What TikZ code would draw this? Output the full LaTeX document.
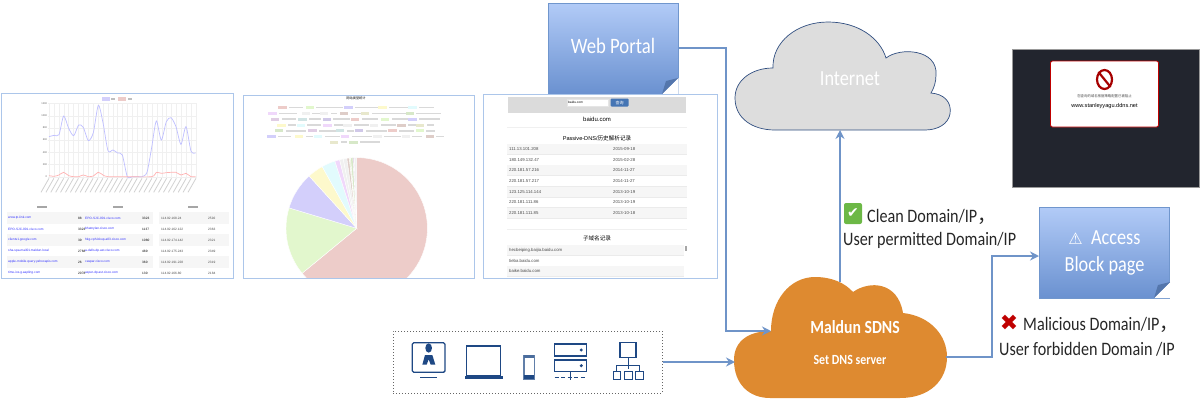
\documentclass[tikz,border=0pt]{standalone}
\usepackage{fontspec}
\usepackage{xcolor}
\usetikzlibrary{arrows.meta, positioning, fit, shapes.geometric}
\setmainfont[FakeStretch=0.85]{Carlito}
\newfontfamily\cjk{Noto Sans CJK SC}
\newfontfamily\shotfont{Liberation Sans}
\newfontfamily\symfont{DejaVu Sans}
\definecolor{linkblue}{RGB}{111,148,200}
\definecolor{shotedge}{RGB}{172,198,234}
\definecolor{notetop}{RGB}{178,203,247}
\definecolor{notebot}{RGB}{106,145,208}
\definecolor{noteedge}{RGB}{112,150,205}
\definecolor{foldblue}{RGB}{84,118,172}
\definecolor{sdnsorange}{RGB}{222,138,48}
\definecolor{netgray}{RGB}{221,221,221}
\definecolor{netedge}{RGB}{48,78,128}
\definecolor{iconnavy}{RGB}{30,72,132}
\definecolor{blockdark}{RGB}{34,37,46}
\definecolor{rowgray}{RGB}{246,246,246}
\definecolor{btnblue}{RGB}{69,117,180}
\definecolor{okgreen}{RGB}{108,184,70}
\definecolor{pinkp}{RGB}{237,204,201}
\definecolor{greenp}{RGB}{226,247,205}
\definecolor{lavp}{RGB}{211,207,251}
\definecolor{yelp}{RGB}{253,249,204}
\definecolor{cyanp}{RGB}{226,251,253}
\definecolor{violetp}{RGB}{240,216,251}
\definecolor{grayp}{RGB}{240,240,240}
\definecolor{rosyp}{RGB}{222,205,200}
\definecolor{khakip}{RGB}{232,232,205}
\definecolor{sagep}{RGB}{215,232,200}
\definecolor{mauvep}{RGB}{224,205,228}
\definecolor{tealp}{RGB}{208,228,228}
\definecolor{purplep}{RGB}{208,200,232}
\tikzset{
  shotbox/.style={rectangle, draw=shotedge, fill=white, line width=1pt, inner sep=0pt},
  notebox/.style={rectangle, draw=noteedge, line width=1pt, top color=notetop, bottom color=notebot,
    minimum width=130pt, minimum height=91pt, align=center, text=white, inner sep=0pt},
  flecha/.style={-{Stealth[length=9pt,width=9pt]}, line width=2pt, color=linkblue},
  etiq/.style={font=\fontsize{19}{22}\selectfont, color=black!85, inner sep=0pt, anchor=west},
  shottxt/.style={font=\shotfont\fontsize{3.2}{3.6}\selectfont, inner sep=0pt, anchor=west},
  domtxt/.style={font=\shotfont\fontsize{4.3}{5}\selectfont, color=black!70, inner sep=0pt, anchor=west},
  icon/.style={draw=iconnavy, line width=1.3pt, fill=white}
}
\begin{document}
\begin{tikzpicture}[x=1pt,y=-1pt]
  \useasboundingbox (0,0) rectangle (1200,400);
  % web portal note
  \node[notebox, font=\fontsize{22}{26}\selectfont] (portal) at (613,48.5) {\raisebox{5pt}{Web Portal}};
  \fill[white] (678.5,78) -- (678.5,94) -- (662,94) -- cycle;
  \fill[foldblue] (678,78) -- (662,94) -- (666,81) -- cycle;
  % screenshots
  \node[shotbox, minimum width=232pt, minimum height=185pt] (trend) at (117,185.5) {};
  \node[shotbox, minimum width=231pt, minimum height=183pt] (pie) at (358.5,186.5) {};
  \node[shotbox, minimum width=234pt, minimum height=184pt] (pdns) at (600,186) {};
  % trend chart
  \begin{scope}[shift={(0,85)},x=0.3333pt,y=-0.3333pt]
    \foreach \gy/\gl in {55/1200,92/1000,129/800,165/600,202/400,238/200,275/0} {
      \draw[black!6, line width=.3pt] (145,\gy) -- (590,\gy);
      \node[shottxt, anchor=east, color=black!60, font=\shotfont\fontsize{2.6}{3}\selectfont] at (142,\gy) {\gl};
    }
    \foreach \i in {0,...,30} {
      \draw[black!6, line width=.3pt] (147+14.7*\i,55) -- (147+14.7*\i,275);
      \draw[black!18, line width=.8pt] (147+14.7*\i,280) -- ++(-24,42);
    }
    \fill[lavp] (305,37) rectangle (329,47);
    \fill[black!25] (334,40) rectangle (346,45);
    \fill[pinkp] (354,37) rectangle (378,47);
    \fill[black!25] (383,40) rectangle (395,45);
    \draw[blue!25, line width=.7pt] plot[smooth, tension=.45] coordinates {(147,155) (162,151) (177,149) (191,93) (206,130) (221,152) (236,120) (250,127) (265,167) (280,143) (295,61) (309,113) (324,197) (339,195) (353,204) (367,210) (382,275) (397,275) (411,275) (426,275) (441,262) (455,188) (469,108) (484,165) (499,110) (513,98) (528,125) (543,178) (558,125) (573,198) (587,204)};
    \draw[red!30, line width=.7pt] plot[smooth, tension=.45] coordinates {(147,272) (162,274) (177,270) (191,262) (206,272) (221,275) (236,275) (250,270) (265,275) (280,273) (295,262) (309,270) (324,275) (382,275) (455,275) (469,262) (484,265) (499,263) (513,262) (528,262) (543,270) (558,265) (573,275) (587,275)};
    % table under the chart
    \foreach \hx in {110,338,563}
      \fill[black!35] (\hx,362) rectangle ++(30,6);
    \foreach \ry in {399,465,531} {
      \fill[rowgray] (20,\ry-17) rectangle (458,\ry+17);
      \fill[rowgray] (477,\ry-17) rectangle (688,\ry+17);
    }
  \end{scope}
  \foreach \ry/\da/\na/\db/\nb/\ip/\nc in {
    218/www.tp-link.com/88/EPO-SJC-001.cisco.com/3323/114.92.168.24/2592,
    229/EPO-SJC-001.cisco.com/3323/bhatnylan.cisco.com/1137/114.92.162.122/2363,
    240/clients1.google.com/39/hkg-cph-bkup-a03.cisco.com/1080/114.92.174.142/2321,
    251/sha-spa-mail01.maldun.local/2768/a-dells-dp.ast.cisco.com/489/114.92.175.243/2349,
    262/apple-mobile.query.yahooapis.com/26/caspar.cisco.com/360/114.92.191.228/2319,
    273/time-ios.g.aapling.com/2078/asper-dp.ast.cisco.com/130/114.92.166.80/2184} {
    \node[shottxt, text=blue!80] at (8,\ry) {\da};
    \node[shottxt] at (78,\ry) {\na};
    \node[shottxt, text=blue!80] at (85,\ry) {\db};
    \node[shottxt] at (142,\ry) {\nb};
    \node[shottxt, text=black!70] at (161,\ry) {\ip};
    \node[shottxt, text=black!70] at (208,\ry) {\nc};
  }
  % pie chart
  \begin{scope}
    \clip (243.5,95.5) rectangle (473.5,277.5);
    \foreach \sa/\sb/\sc in {90/-140.5/pinkp, 219.5/163.2/greenp, 163.2/132.3/lavp, 132.3/119.2/yelp,
      119.2/108/cyanp, 108/104/violetp, 104/101/grayp, 101/98/grayp, 98/96/rosyp, 96/95/khakip,
      95/93/sagep, 93/92/mauvep, 92/90/grayp} {
      \fill[\sc, draw=white, line width=.4pt] (356.7,228.3) -- ++({cos(\sa)*70.7},{-sin(\sa)*70.7})
        arc[start angle=-\sa, delta angle={\sa-\sb}, radius=70.7] -- cycle;
    }
  \end{scope}
  \node[shottxt, anchor=center, font=\cjk\fontsize{3.2}{4}\selectfont] (pietitle) at (356,98.5) {网站类型统计};
  \begin{scope}[shift={(240,85)},x=0.3333pt,y=-0.3333pt]
    \foreach \ly/\lx/\lc/\lw in {
      67/115/pinkp/43, 67/197/greenp/80, 67/313/lavp/70, 67/415/yelp/65, 67/505/cyanp/45,
      85/85/violetp/55, 85/185/grayp/25, 85/240/grayp/20, 85/300/rosyp/30, 85/363/khakip/105, 85/497/sagep/75,
      102/93/mauvep/42, 102/175/tealp/35, 102/248/purplep/50, 102/333/pinkp/50, 102/423/greenp/50, 102/505/lavp/62,
      120/112/yelp/25, 120/170/cyanp/42, 120/250/violetp/30, 120/310/grayp/45, 120/390/grayp/45, 120/472/rosyp/30, 120/528/khakip/22,
      137/105/sagep/60, 137/205/mauvep/50, 137/288/tealp/22, 137/345/purplep/65, 137/445/pinkp/45, 137/527/greenp/25,
      155/82/lavp/40, 155/165/yelp/22, 155/222/cyanp/45, 155/303/violetp/60, 155/400/grayp/50, 155/485/grayp/30, 155/557/rosyp/22,
      172/270/khakip/20, 172/328/sagep/60} {
      \fill[\lc] (\lx,\ly-4.5) rectangle ++(25,9);
      \fill[black!15] (\lx+32,\ly-2.5) rectangle ++(\lw,5);
    }
  \end{scope}
  % passive dns page
  \fill[black!14] (508,97) rectangle (686,113);
  \node[draw=black!10, fill=white, minimum width=41pt, minimum height=7pt, inner sep=0pt, anchor=west,
    font=\shotfont\fontsize{3.2}{4}\selectfont, text width=39pt] (query) at (567,102.5) {baidu.com};
  \node[fill=btnblue, rounded corners=1pt, minimum width=18pt, minimum height=8pt, inner sep=0pt,
    right=2pt of query, text=white, font=\cjk\fontsize{4}{5}\selectfont] (querybtn) {查询};
  \node[font=\shotfont\fontsize{6}{7}\selectfont, inner sep=0pt] (domain) at (597,119) {baidu.com};
  \draw[black!6, line width=.4pt] (507,127) -- (687,127);
  \node[font=\shotfont\fontsize{5.6}{7}\selectfont, inner sep=0pt] (pdnstitle) at (597,138) {Passive-DNS/{\cjk 历史解析记录}};
  \foreach \ry/\ip/\dt/\st in {
    149/111.13.101.208/2015-09-18/1, 160/180.149.132.47/2015-02-28/0, 170/220.181.57.216/2014-11-27/1,
    181/220.181.57.217/2014-11-27/0, 192/123.125.114.144/2013-10-19/1, 202/220.181.111.86/2013-10-19/0,
    213/220.181.111.85/2013-10-18/1} {
    \ifnum\st=1 \fill[rowgray] (507,\ry-5.3) rectangle (687,\ry+5.3); \fi
    \draw[black!8, line width=.3pt] (507,\ry+5.3) -- (687,\ry+5.3);
    \node[domtxt] at (509,\ry) {\ip};
    \node[domtxt] at (613,\ry) {\dt};
  }
  \draw[black!6, line width=.4pt] (507,229) -- (687,229);
  \node[font=\cjk\fontsize{5.6}{7}\selectfont, inner sep=0pt] (subtitle) at (597,238) {子域名记录};
  \foreach \ry/\sd/\st in {250/hecbeiping.baijia.baidu.com/1, 261/tieba.baidu.com/0, 271/baike.baidu.com/1} {
    \ifnum\st=1 \fill[rowgray] (507,\ry-5.3) rectangle (684,\ry+5.3); \fi
    \draw[black!8, line width=.3pt] (507,\ry+5.3) -- (684,\ry+5.3);
    \node[domtxt] at (509,\ry) {\sd};
  }
  \fill[black!35] (685,246) rectangle (686.5,251);
  % clouds
  \draw[fill=netgray, draw=netedge, line width=.7pt] (735,98) .. controls (735,80) and (752,68) .. (773,68)
    .. controls (772,42) and (797,22) .. (828,22) .. controls (858,22) and (880,38) .. (886,58)
    .. controls (900,47) and (938,49) .. (936,75) .. controls (936,82) and (934,88) .. (931,93)
    .. controls (944,94) and (952,102) .. (950,114) .. controls (948,124) and (938,130) .. (925,130)
    -- (775,130) .. controls (752,130) and (735,118) .. (735,98) -- cycle;
  \node[text=white, font=\fontsize{21.5}{25}\selectfont, inner sep=0pt] (internet) at (850,79) {Internet};
  \coordinate (netbase) at (840,130);
  \fill[sdnsorange] (734,360) .. controls (734,340) and (750,331) .. (771,331)
    .. controls (771,300) and (790,277) .. (815,277) .. controls (832,277) and (845,283) .. (853,292)
    .. controls (870,280) and (898,282) .. (903,313) .. controls (930,316) and (947,335) .. (947,357)
    .. controls (947,380) and (930,398) .. (900,398) -- (770,398)
    .. controls (750,398) and (734,385) .. (734,360) -- cycle;
  \node[text=white, font=\bfseries\fontsize{18.5}{22}\selectfont, inner sep=0pt] (sdns) at (855,327) {Maldun SDNS};
  \node[text=white, font=\bfseries\fontsize{14}{17}\selectfont, inner sep=0pt] (setdns) at (850,360) {Set DNS server};
  \coordinate (sdnswest) at (735,362);
  \coordinate (sdnsleft) at (771,331);
  \coordinate (sdnstop) at (840,282);
  \coordinate (sdnseast) at (946,357);
  % block page note
  \node[notebox, font=\fontsize{21.5}{27}\selectfont] (blockp) at (1104.5,252.5)
    {\raisebox{3pt}{{\symfont\fontsize{16}{20}\selectfont ⚠}\ \ Access}\\\raisebox{3pt}{Block page}};
  \fill[white] (1170.5,282) -- (1170.5,298) -- (1154,298) -- cycle;
  \fill[foldblue] (1170,282) -- (1154,298) -- (1158,285) -- cycle;
  % device icons
  \node[draw=black!60, dotted, line width=1pt, minimum width=269pt, minimum height=62pt, inner sep=0pt] (devices) at (527.5,362) {};
  \begin{scope}[shift={(380,320)},x=0.3333pt,y=-0.3333pt]
    \draw[icon, rounded corners=1.5pt] (97,68) rectangle (195,157);
    \draw[iconnavy, line width=1.6pt] (120,172) -- (172,172);
    \fill[iconnavy] (146,84) ellipse (10 and 14);
    \fill[iconnavy] (127,134) -- (135,105) -- (157,105) -- (166,134) -- (152,134) -- (146,118) -- (140,134) -- cycle;
    \draw[icon] (260,78) rectangle (362,168);
    \fill[iconnavy] (255,167) rectangle (368,178);
    \draw[icon, draw=iconnavy!70] (432,106) rectangle (463,178);
    \fill[iconnavy!80] (432,106) rectangle (463,114);
    \fill[iconnavy] (432,166) rectangle (463,178);
    \draw[icon] (524,72) rectangle (620,108);
    \draw[icon] (524,120) rectangle (620,155);
    \fill[iconnavy] (604,90) circle (5);
    \fill[iconnavy] (604,137) circle (5);
    \draw[iconnavy, line width=1.3pt] (572,155) -- (572,180);
    \draw[iconnavy, line width=1.3pt, dash pattern=on 4pt off 2.5pt] (524,173) -- (620,173);
    \draw[icon] (720,68) rectangle (768,112);
    \draw[iconnavy, line width=.9pt] (744,112) -- (744,148);
    \draw[iconnavy, line width=.9pt] (710,155) -- (710,136) -- (779,136) -- (779,155);
    \draw[iconnavy, line width=.9pt] (699,155) rectangle (722,178);
    \draw[iconnavy, line width=.9pt] (733,155) rectangle (757,178);
    \draw[iconnavy, line width=.9pt] (767,155) rectangle (790,178);
  \end{scope}
  % blocked page screenshot
  \node[draw=black!40, fill=blockdark, line width=.5pt, minimum width=187pt, minimum height=138pt, inner sep=0pt] (blockshot) at (1105.5,118) {};
  \node[draw=red!75!black, fill=white, line width=.8pt, rounded corners=2pt, minimum width=108pt, minimum height=66pt, inner sep=0pt] (blockcard) at (1104.5,94) {};
  \node[ellipse, draw=red!65!black, line width=2.2pt, fill=white, minimum width=15pt, minimum height=19pt, inner sep=0pt] (forbid) at (1104.5,79.5) {};
  \draw[red!65!black, line width=2.2pt] (forbid.north west) -- (forbid.south east);
  \node[font=\cjk\fontsize{3.4}{4}\selectfont, text=black!70, inner sep=0pt] (blocknote) at (1104.5,96) {您查询的域名根据策略配置已被阻止};
  \node[font=\shotfont\fontsize{5.6}{7}\selectfont, inner sep=0pt] (blockurl) at (1104.5,106) {www.stanleyyagu.ddns.net};
  % labels
  \node[fill=okgreen, rounded corners=2pt, minimum width=18pt, minimum height=21pt, inner sep=0pt,
    text=white, font=\symfont\fontsize{14}{16}\selectfont] (okmark) at (853,213.5) {✔};
  \node[etiq] (cleana) at (867,217) {Clean Domain/IP{\cjk ，}};
  \node[etiq] (cleanb) at (843,240) {User permitted Domain/IP};
  \node[inner sep=0pt, text=red!75!black, font=\symfont\fontsize{22}{24}\selectfont] (badmark) at (1009,323) {✖};
  \node[etiq] (mala) at (1023,325) {Malicious Domain/IP{\cjk ，}};
  \node[etiq] (malb) at (999,349) {User forbidden Domain /IP};
  % connectors
  \coordinate (portalbend) at (726,48);
  \draw[flecha] (portal.east |- portalbend) -- (portalbend) |- (sdnsleft);
  \draw[flecha] (devices.east) -- (sdnswest);
  \draw[flecha] (sdnstop) -- (netbase);
  \coordinate (blockbend) at (992,256);
  \draw[flecha] (sdnseast) -| (blockbend) -- (blockp.west |- blockbend);
\end{tikzpicture}
\end{document}
